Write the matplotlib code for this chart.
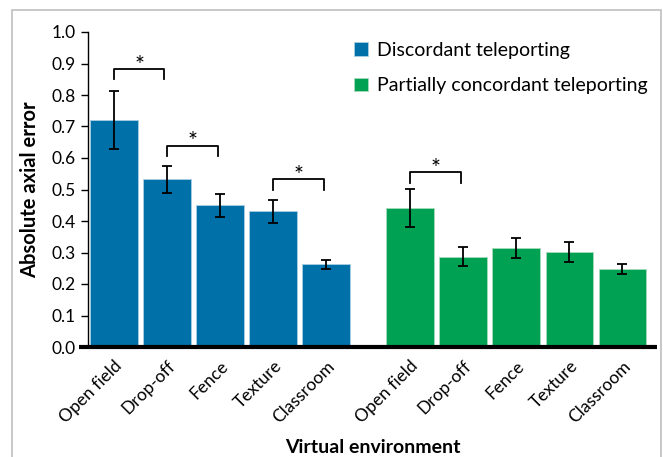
#Bar chart: absolute axial error per virtual environment

import numpy as np
import matplotlib.pyplot as plt
from matplotlib.patches import Rectangle

plt.rcParams['font.family'] = ['Lato', 'DejaVu Sans']

#Data
environments = ['Open field', 'Drop-off', 'Fence', 'Texture', 'Classroom']
discordant = [0.722, 0.532, 0.450, 0.431, 0.262]
discordant_err = [0.092, 0.042, 0.036, 0.036, 0.014]
concordant = [0.441, 0.287, 0.315, 0.301, 0.248]
concordant_err = [0.061, 0.030, 0.032, 0.032, 0.017]

#Significance brackets: (left bar, right bar, bottom, top)
brackets = [(0, 1, 0.851, 0.883), (1, 2, 0.607, 0.639),
            (3, 4, 0.500, 0.533), (5, 6, 0.521, 0.555)]

blue = '#0070a8'
green = '#00a152'

x_blue = np.arange(5)
x_green = np.arange(5) + 5.58
x_all = np.concatenate([x_blue, x_green])

fig = plt.figure(figsize=(6.63, 4.57), dpi=100)
ax = fig.add_axes([88/663, 1 - 347/457, (657 - 88)/663, (347 - 32)/457])

#Chart border like the Excel chart area
fig.patches.append(Rectangle((12/663, -0.05), (661 - 12)/663, 1 - 10/457 + 0.05,
                             transform=fig.transFigure, fill=False,
                             edgecolor='#bfbfbf', lw=1.2))

ax.bar(x_blue, discordant, width=0.9, color=blue, edgecolor='#a9cfe6', lw=0.6,
       label='Discordant teleporting')
ax.bar(x_green, concordant, width=0.9, color=green, edgecolor='#a6dcbc', lw=0.6,
       label='Partially concordant teleporting')
ax.errorbar(x_blue, discordant, yerr=discordant_err, fmt='none', ecolor='black',
            elinewidth=1.3, capsize=3.5, capthick=1.3)
ax.errorbar(x_green, concordant, yerr=concordant_err, fmt='none', ecolor='black',
            elinewidth=1.3, capsize=3.5, capthick=1.3)

#Brackets with stars
for i, j, lo, hi in brackets:
    x0, x1 = x_all[i], x_all[j] - 0.05
    ax.plot([x0, x0, x1, x1], [lo, hi, hi, lo], color='black', lw=1.3)
    ax.text((x0 + x1) / 2, hi + 0.012, '*', ha='center', va='center', fontsize=17)

ax.set_xlim(-0.49, 10.23)
ax.set_ylim(0, 1.0)
ax.set_yticks(np.arange(0, 1.01, 0.1))
ax.set_yticklabels(['%.1f' % v for v in np.arange(0, 1.01, 0.1)], fontsize=12.5)
ax.set_xticks(x_all)
ax.set_xticklabels(environments * 2, rotation=45, ha='right', rotation_mode='anchor',
                   fontsize=12.5)
ax.tick_params(axis='x', length=0, pad=8)
ax.tick_params(axis='y', direction='out', length=5, width=1, pad=4)

for s in ['top', 'right']:
    ax.spines[s].set_visible(False)
ax.spines['left'].set_linewidth(1)
ax.spines['bottom'].set_visible(False)
ax.plot([-0.015, 1], [0, 0], transform=ax.transAxes, color='black', lw=3,
        clip_on=False, solid_capstyle='butt')

ax.set_ylabel('Absolute axial error', fontsize=14.5, fontweight='bold', labelpad=8)
ax.set_xlabel('Virtual environment', fontsize=14, fontweight='bold', labelpad=9)

ax.legend(loc='upper left', bbox_to_anchor=(354/663, 1 - 42/457),
          bbox_transform=fig.transFigure, frameon=False, fontsize=14,
          handlelength=0.7, handleheight=0.7, handletextpad=0.5,
          labelspacing=0.95, borderpad=0, borderaxespad=0)

plt.savefig('out.png', dpi=100)
